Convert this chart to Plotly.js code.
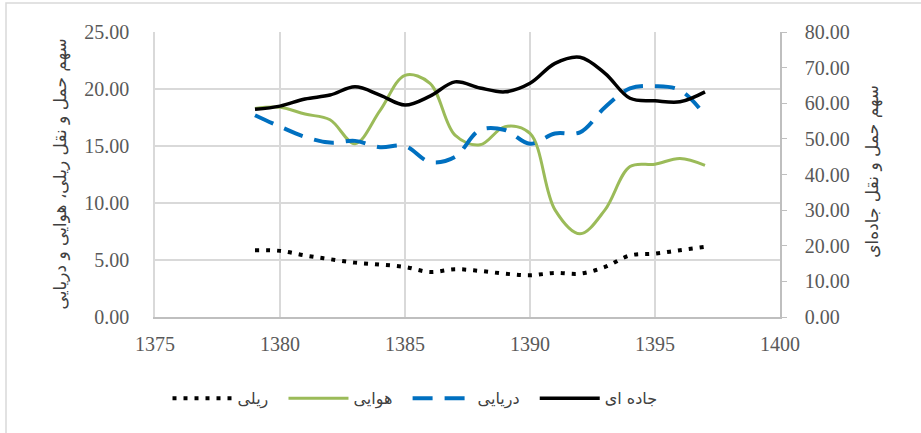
<!DOCTYPE html>
<html>
<head>
<meta charset="utf-8">
<script src="https://cdn.plot.ly/plotly-3.0.1.min.js"></script>
<style>
  body { margin: 0; background: #fff; }
  #chart { width: 921px; height: 433px; }
</style>
</head>
<body>
<div id="chart"></div>
<script>
// years and shares of each transport mode
const years = [1379, 1380, 1381, 1382, 1383, 1384, 1385, 1386, 1387, 1388,
               1389, 1390, 1391, 1392, 1393, 1394, 1395, 1396, 1397];
const rail = [5.86, 5.8, 5.4, 5.07, 4.77, 4.6, 4.39, 3.95, 4.19, 4.04,
              3.8, 3.66, 3.87, 3.8, 4.39, 5.4, 5.56, 5.86, 6.15];
const air = [18.3, 18.4, 17.8, 17.3, 15.2, 18.1, 21.2, 20.5, 15.95, 15.1,
             16.7, 16.1, 9.4, 7.3, 9.4, 13.2, 13.4, 13.9, 13.3];
const sea = [17.7, 16.7, 15.8, 15.3, 15.45, 14.9, 15.0, 13.6, 14.05, 16.4,
             16.4, 15.2, 16.1, 16.2, 18.4, 20.05, 20.25, 19.9, 17.7];
const road = [58.3, 59.2, 61.2, 62.3, 64.6, 62.3, 59.5, 62.0, 66.0, 64.3,
              63.2, 65.6, 71.2, 72.9, 68.4, 61.4, 60.7, 60.4, 63.2];

const names = ['ریلی', 'هوایی', 'دریایی', 'جاده ای'];
const leftTitle = 'سهم حمل و نقل ریلی، هوایی و دریایی';
const rightTitle = 'سهم حمل و نقل جاده‌ای';

const tickFont = { family: 'Liberation Serif, Times New Roman, serif', size: 20, color: '#595959' };
const faFont = { family: 'DejaVu Sans, sans-serif', size: 16, color: '#404040' };
const titleFont = { family: 'DejaVu Sans, sans-serif', size: 17, color: '#404040' };

// a little extra room after each legend label, like the original
const pad = '\u00a0\u00a0';

const traces = [
    {
        x: years, y: rail, name: names[0] + pad, mode: 'lines',
        line: { shape: 'spline', color: '#000000', width: 4, dash: '4px,7px' }
    },
    {
        x: years, y: air, name: names[1] + pad, mode: 'lines',
        line: { shape: 'spline', color: '#9bbb59', width: 3 }
    },
    {
        x: years, y: sea, name: names[2] + pad, mode: 'lines',
        line: { shape: 'spline', color: '#0070c0', width: 4, dash: '20px,12px' }
    },
    {
        x: years, y: road, name: names[3], mode: 'lines', yaxis: 'y2',
        line: { shape: 'spline', color: '#000000', width: 3.5 }
    }
];

const layout = {
    width: 921,
    height: 433,
    margin: { l: 155, r: 141, t: 32, b: 116 },
    paper_bgcolor: '#ffffff',
    plot_bgcolor: '#ffffff',
    showlegend: true,
    legend: {
        orientation: 'h',
        x: 0.02, xanchor: 'left',
        y: -0.285, yanchor: 'middle',
        font: faFont,
        itemwidth: 60
    },
    xaxis: {
        range: [1375, 1400],
        tickvals: [1375, 1380, 1385, 1390, 1395, 1400],
        showgrid: true, gridcolor: '#d9d9d9', gridwidth: 1.5,
        showline: true, linecolor: '#bfbfbf', linewidth: 1.5,
        zeroline: false,
        ticks: '', ticklabelstandoff: 8,
        tickfont: tickFont
    },
    yaxis: {
        range: [0, 25],
        tickvals: [0, 5, 10, 15, 20, 25],
        tickformat: '.2f',
        showgrid: true, gridcolor: '#d9d9d9', gridwidth: 1.5,
        showline: true, linecolor: '#d9d9d9', linewidth: 1.5,
        zeroline: false,
        ticks: '', ticklabelstandoff: 20,
        tickfont: tickFont
    },
    yaxis2: {
        range: [0, 80],
        tickvals: [0, 10, 20, 30, 40, 50, 60, 70, 80],
        tickformat: '.2f',
        overlaying: 'y', side: 'right',
        showgrid: false,
        showline: true, linecolor: '#bfbfbf', linewidth: 1.5,
        zeroline: false,
        ticks: 'outside', ticklen: 5, tickcolor: '#bfbfbf',
        ticklabelstandoff: 14,
        tickfont: tickFont
    },
    annotations: [
        {
            text: leftTitle, textangle: -90, font: titleFont, showarrow: false,
            xref: 'paper', yref: 'paper', x: -0.152, y: 0.5,
            xanchor: 'center', yanchor: 'middle'
        },
        {
            text: rightTitle, textangle: -90, font: titleFont, showarrow: false,
            xref: 'paper', yref: 'paper', x: 1.149, y: 0.51,
            xanchor: 'center', yanchor: 'middle'
        }
    ],
    shapes: [
        {
            type: 'rect', xref: 'paper', yref: 'paper',
            x0: -0.2384, x1: 1.25, y0: -0.45, y1: 1.1018,
            line: { color: '#d9d9d9', width: 1.5 }, fillcolor: 'rgba(0,0,0,0)',
            layer: 'below'
        }
    ]
};

Plotly.newPlot('chart', traces, layout, { displayModeBar: false, responsive: false });
</script>
</body>
</html>
